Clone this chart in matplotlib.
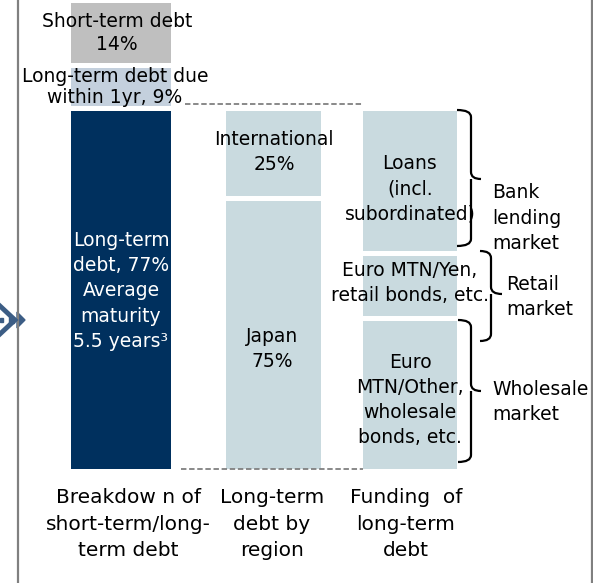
#!/usr/bin/env python3
# -*- coding: utf-8 -*-
"""Debt breakdown: short/long-term split, long-term by region and by funding."""

import matplotlib
matplotlib.use("Agg")
import matplotlib.pyplot as plt
import matplotlib.patches as mpatches
from matplotlib.path import Path

plt.rcParams['font.family'] = ['DejaVu Sans']

# --- data (% of total debt / % of long-term debt) ---
term_labels = ["Long-term\ndebt, 77%\nAverage\nmaturity\n5.5 years³",
               "Long-term debt due\nwithin 1yr, 9%",
               "Short-term debt\n14%"]
term_values = [77, 9, 14]
term_colors = ["#00305e", "#c4d0dd", "#bfbfbf"]

region_labels = ["Japan\n75%", "International\n25%"]
region_shares = [75, 25]           # % of long-term debt

funding_labels = ["Euro\nMTN/Other,\nwholesale\nbonds, etc.",
                  "Euro MTN/Yen,\nretail bonds, etc.",
                  "Loans\n(incl.\nsubordinated)"]
funding_shares = [42, 18, 40]      # % of long-term debt (estimated)

market_labels = ["Wholesale\nmarket", "Retail\nmarket", "Bank\nlending\nmarket"]

column_titles = ["Breakdow n of\nshort-term/long-\nterm debt",
                 "Long-term\ndebt by\nregion",
                 "Funding  of\nlong-term\ndebt"]

LIGHT = "#c9dadf"
GREY = "#808080"

# --- layout (pixel helpers) ---
W, H = 593, 583
Y0 = 470.5        # pixel row of 0 %
SCALE = 4.71      # pixels per %
GAP = 5 * 72 / 100.0   # white edge, in points


def py(y):
    """pixel row -> data value"""
    return (Y0 - y) / SCALE


fig = plt.figure(figsize=(W / 100, H / 100), dpi=100)
ax = fig.add_axes([0, 0, 1, 1])
ax.set_xlim(0, W)
ax.set_ylim(py(H), py(0))
ax.axis("off")

lt_total = term_values[0]


def stack(xc, width, values, colors):
    bottom = 0
    for v, c in zip(values, colors):
        ax.bar(xc, v, width=width, bottom=bottom, color=c,
               edgecolor="white", linewidth=GAP)
        bottom += v


stack(120, 105, term_values, term_colors)
stack(273, 100, [s * lt_total / 100 for s in region_shares], [LIGHT] * 2)
stack(409, 99, [s * lt_total / 100 for s in funding_shares], [LIGHT] * 3)

# --- texts inside / around bars ---
fs = 13.5
ls = 1.42


def label(x, y, s, ha="center", **kw):
    kw.setdefault("fontsize", fs)
    kw.setdefault("linespacing", ls)
    ax.text(x, py(y), s, ha=ha, va="center", multialignment=ha, **kw)


label(121, 291, term_labels[0], color="white")
label(115, 87, term_labels[1], linespacing=1.12)
label(117, 33, term_labels[2], linespacing=1.3)

label(274, 152, region_labels[1])
label(272, 349, region_labels[0])

label(410, 189, funding_labels[2])
label(410, 283, funding_labels[1])
label(410, 400, funding_labels[0])

label(492, 218, market_labels[2], ha="left")
label(506, 297, market_labels[1], ha="left")
label(492, 402, market_labels[0], ha="left")

for xc, t in zip([128, 272, 406], column_titles):
    label(xc, 524, t, fontsize=14.5, linespacing=1.5)

# --- dashed connectors ---
ax.plot([185, 362], [py(104), py(104)], color=GREY, lw=1.3,
        dashes=(3, 1.5))
ax.plot([181, 363], [py(469), py(469)], color=GREY, lw=1.3,
        dashes=(3, 1.5))


# --- curly braces ---
def brace(x0, x1, x2, ytop, ymid, ybot):
    r = 7
    verts = [(x0, py(ytop)), (x1, py(ytop)), (x1, py(ytop + r)),
             (x1, py(ymid - r)), (x1, py(ymid)), (x2, py(ymid)),
             (x1, py(ymid)), (x1, py(ymid + r)),
             (x1, py(ybot - r)), (x1, py(ybot)), (x0, py(ybot))]
    codes = [Path.MOVETO, Path.CURVE3, Path.CURVE3,
             Path.LINETO, Path.CURVE3, Path.CURVE3,
             Path.MOVETO, Path.CURVE3,
             Path.LINETO, Path.CURVE3, Path.CURVE3]
    ax.add_patch(mpatches.PathPatch(Path(verts, codes), fill=False,
                                    edgecolor="black", lw=1.6))


brace(457, 471, 481, 110, 179, 246)
brace(480, 491, 502, 251, 294, 341)
brace(458, 471, 481, 320, 391, 462)

# --- frame lines ---
ax.plot([17.5, 17.5], [py(0), py(H)], color=GREY, lw=1.6)
ax.plot([591.5, 591.5], [py(0), py(H)], color=GREY, lw=1.6)

# --- chevron marker on the left edge ---
ARROW = "#3c5d85"
ax.plot([0, 15, 0], [py(306), py(320), py(334)], color=ARROW, lw=3.5,
        solid_joinstyle="miter")
ax.add_patch(mpatches.Polygon([(17, py(312)), (25, py(320)), (17, py(328))],
                              closed=True, color=ARROW))
ax.add_patch(mpatches.Rectangle((0, py(322)), 3, py(318) - py(322),
                                color=ARROW))
ax.add_patch(mpatches.Rectangle((9, py(323)), 5, py(317) - py(323),
                                color=ARROW))

fig.savefig("out.png", dpi=100)
